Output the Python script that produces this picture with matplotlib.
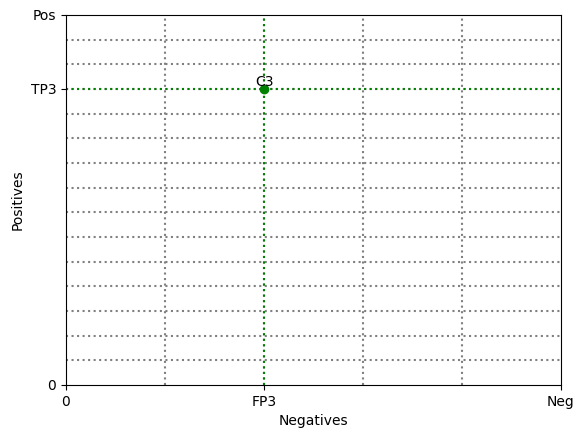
import matplotlib
matplotlib.use("Agg")
import matplotlib.pyplot as plt

pos_total = 15
neg_total = 5
point_name = "C3"
tp = 12
fp = 2
x_tick_labels = ["0", "FP3", "Neg"]
y_tick_labels = ["0", "TP3", "Pos"]

fig = plt.figure(figsize=(5.85, 4.38), dpi=100)
ax = fig.add_axes([66/585, 1-385/438, (561-66)/585, (385-15)/438])

for i in range(1, pos_total):
    ax.axhline(i, color="gray", linestyle=":", linewidth=1.5)
for j in range(1, neg_total):
    ax.axvline(j, color="gray", linestyle=":", linewidth=1.5)

ax.axhline(tp, color="green", linestyle=":", linewidth=1.5)
ax.axvline(fp, color="green", linestyle=":", linewidth=1.5)
ax.plot([fp], [tp], "o", color="green")
ax.text(fp, tp, point_name, ha="center", va="bottom")

ax.set_xlim(0, neg_total)
ax.set_ylim(0, pos_total)
ax.set_xticks([0, fp, neg_total])
ax.set_xticklabels(x_tick_labels)
ax.set_yticks([0, tp, pos_total])
ax.set_yticklabels(y_tick_labels)
ax.set_xlabel("Negatives")
ax.set_ylabel("Positives")

fig.savefig("out.png", dpi=100)
